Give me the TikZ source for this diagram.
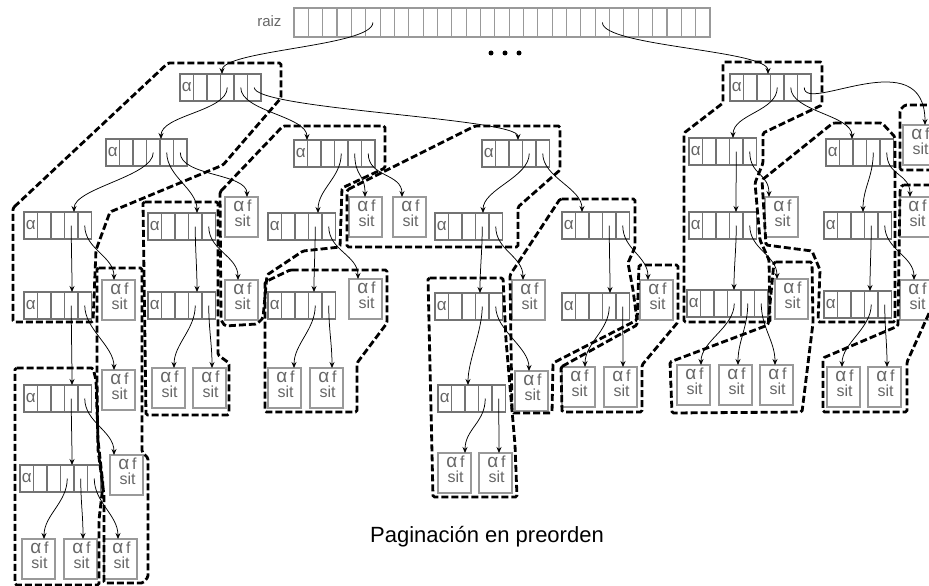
\documentclass[tikz,border=0pt]{standalone}
\usepackage{fontspec}
\setmainfont{Liberation Sans}
\usetikzlibrary{arrows.meta,calc}

\colorlet{cellgray}{black!55}
\colorlet{leafgray}{black!40}
\colorlet{txtgray}{black!60}

\tikzset{
  ptrrow/.style={draw=cellgray, line width=1.3pt, minimum height=27pt, inner sep=0pt, outer sep=0pt},
  cellsep/.style={draw=cellgray, line width=1.1pt},
  alf/.style={text=txtgray, font=\fontsize{17}{17}\selectfont, inner sep=0pt},
  leafbox/.style={draw=leafgray, line width=1.1pt, minimum width=33pt, minimum height=40pt, inner sep=0pt, outer sep=0pt, anchor=north west},
  leaftxt/.style={align=center, text=txtgray, font=\fontsize{16}{15}\selectfont, inner sep=0pt, anchor=north},
  ptr/.style={-{Stealth[length=6pt,width=5pt]}, line width=0.75pt},
  sdrop/.style={out=-90, in=90, distance=#1},
  sdrop/.default=24pt,
  pagebox/.style={line width=2.8pt, dash pattern=on 7pt off 3pt, rounded corners=1.5pt},
}

% one array of pointers: name, left x, top y, number of cells
\newcommand{\cellrow}[4]{%
  \node[ptrrow, minimum width=#4*13.5pt, anchor=north west] (#1) at (#2,-#3) {};
  \foreach \k in {1,...,#4}{\coordinate (#1-\k) at ([xshift=\k*13.5pt-6.75pt]#1.west);}
  \foreach \k in {2,...,#4}{\draw[cellsep] ([xshift=\k*13.5pt-13.5pt]#1.north west) -- ([xshift=\k*13.5pt-13.5pt]#1.south west);}
  \node[alf] (#1-a) at (#1-1) {α};
}

\begin{document}
\begin{tikzpicture}[x=1pt,y=1pt]
  \useasboundingbox (0,0) rectangle (929,-586);
  \clip (0,0) rectangle (929,-586);

  % root array
  \node[ptrrow, draw=leafgray, minimum width=416pt, minimum height=29pt, anchor=north west] (root) at (294,-8) {};
  \foreach \k in {1,...,28} \draw[cellsep, draw=leafgray] ([xshift=\k*14.345pt]root.north west) -- ([xshift=\k*14.345pt]root.south west);
  \coordinate (root-6) at ([xshift=5.5*14.345pt]root.west);
  \coordinate (root-22) at ([xshift=21.5*14.345pt]root.west);
  \node[text=txtgray, anchor=east, font=\fontsize{15}{15}\selectfont] (raiz) at (285,-21) {raiz};
  \foreach \x in {491,505,519} \fill (\x,-53) circle (2.5pt);

  % inner nodes
  \cellrow{A}{180}{74}{6}
  \cellrow{B}{106}{139}{6}
  \cellrow{C}{294}{140}{6}
  \cellrow{D}{482}{140}{5}
  \cellrow{E}{24}{212}{5}
  \cellrow{F}{148}{213}{5}
  \cellrow{G}{268}{213}{5}
  \cellrow{H}{435}{213}{5}
  \cellrow{I}{562}{212}{5}
  \cellrow{J}{24}{292}{5}
  \cellrow{N}{148}{292}{5}
  \cellrow{O}{268}{292}{5}
  \cellrow{P}{435}{293}{5}
  \cellrow{R}{562}{293}{5}
  \cellrow{K}{24}{385}{5}
  \cellrow{Q}{438}{385}{5}
  \cellrow{M}{20}{465}{6}
  \cellrow{S}{730}{74}{6}
  \cellrow{T}{689}{138}{5}
  \cellrow{U}{826}{139}{5}
  \cellrow{V}{689}{212}{5}
  \cellrow{X}{824}{212}{5}
  \cellrow{W}{687}{290}{6}
  \cellrow{Y}{824}{291}{5}

  % leaves
  \foreach \n/\x/\y in {L1/225/197, L2/349/197, L3/393/197, L4/102/280, L5/102/370, L6/110/455,
      L7/22/539, L8/64/539, L9/104/539, L10/225/280, L11/152/368, L12/193/368, L13/349/279,
      L14/268/368, L15/310/368, L16/512/280, L17/515/371, L18/438/453, L19/479/453, L20/640/280,
      L21/562/367, L22/604/367, L23/903/125, L24/765/197, L25/775/279, L26/677/365, L27/719/365,
      L28/760/365, L29/900/197, L30/900/280, L31/827/367, L32/868/367}
  {
    \node[leafbox] (\n) at (\x,-\y) {};
    \node[leaftxt] (\n-t) at ([xshift=1pt,yshift=-2.5pt]\n.north) {{\fontsize{19}{15}\selectfont α}\,f\\sit};
  }

  % pointers
  \draw[ptr] (root-6) to[sdrop] ([xshift=42pt]A.north west);
  \draw[ptr] (root-22) to[sdrop] ([xshift=38pt]S.north west);
  \draw[ptr] (A-6) to[sdrop=22pt] ([xshift=36pt]D.north west);
  \draw[ptr] (S-6) .. controls +(0,-27) and +(0,85) .. ([xshift=22pt]L23.north west);
  \foreach \src/\dst/\off in {A-4/B/55, A-5/C/13, B-4/E/50, B-5/F/49, B-6/L1/22, C-4/G/50, C-5/L2/16,
      C-6/L3/9, D-4/H/48, D-5/I/20, E-4/J/48, E-5/L4/12, F-4/N/49, F-5/L10/13, G-4/O/46, G-5/L13/9,
      H-4/P/45, H-5/L16/11, I-4/R/48, I-5/L20/8, J-4/K/48, J-5/L5/12, N-4/L11/22, N-5/L12/19,
      O-4/L14/26, O-5/L15/22, P-4/Q/30, P-5/L17/14, R-4/L21/23, R-5/L22/19, K-4/M/52, K-5/L6/4,
      M-4/L7/22, M-5/L8/19, M-6/L9/14, Q-4/L18/27, Q-5/L19/20, S-4/T/44, S-5/U/26, T-4/V/47,
      T-5/L24/4, U-4/X/39, U-5/L29/10, V-4/W/47, V-5/L25/2, X-4/Y/46, X-5/L30/14, W-4/L26/24,
      W-5/L27/19, W-6/L28/15, Y-4/L31/15, Y-5/L32/19}
    \draw[ptr] (\src) to[sdrop] ([xshift=\off pt]\dst.north west);

  % pages
  \draw[pagebox] (13,-208) -- (168,-63) -- (281,-63) -- (281,-98) -- (223,-165) -- (110,-212) -- (96,-250) -- (93,-322) -- (13,-322) -- cycle;
  \draw[pagebox] (97,-268) -- (142,-268) -- (142,-452) -- (148,-458) -- (148,-577) -- (143,-583) -- (104,-583) -- (104,-495) -- (98,-450) -- (97,-380) -- cycle;
  \draw[pagebox] (15,-368) -- (93,-368) -- (96,-380) -- (98,-440) -- (103,-485) -- (99,-520) -- (99,-585) -- (15,-585) -- cycle;
  \draw[pagebox] (143,-202) -- (218,-202) -- (218,-355) -- (229,-363) -- (229,-415) -- (146,-415) -- cycle;
  \draw[pagebox] (220,-192) -- (283,-126) -- (385,-126) -- (385,-168) -- (342,-188) -- (340,-247) -- (303,-251) -- (267,-275) -- (263,-318) -- (257,-324) -- (225,-326) -- (221,-320) -- cycle;
  \draw[pagebox] (290,-270) -- (387,-270) -- (387,-323) -- (357,-363) -- (357,-412) -- (265,-412) -- (265,-282) -- cycle;
  \draw[pagebox] (347,-190) -- (475,-126) -- (560,-126) -- (560,-170) -- (518,-207) -- (518,-247) -- (347,-247) -- cycle;
  \draw[pagebox] (560,-199) -- (635,-199) -- (635,-247) -- (628,-263) -- (633,-290) -- (637,-320) -- (553,-363) -- (552,-413) -- (512,-413) -- (510,-275) -- cycle;
  \draw[pagebox] (428,-278) -- (503,-278) -- (506,-340) -- (515,-445) -- (517,-497) -- (433,-497) -- cycle;
  \draw[pagebox] (561,-367) -- (637,-325) -- (639,-265) -- (678,-265) -- (678,-322) -- (642,-365) -- (642,-412) -- (562,-412) -- cycle;
  \draw[pagebox] (723,-62) -- (822,-62) -- (822,-105) -- (763,-133) -- (763,-163) -- (755,-183) -- (760,-240) -- (769,-260) -- (770,-322) -- (684,-322) -- (684,-133) -- (723,-103) -- cycle;
  \draw[pagebox] (833,-123) -- (882,-123) -- (895,-137) -- (895,-322) -- (818,-322) -- (820,-270) -- (812,-251) -- (766,-245) -- (762,-180) -- cycle;
  \draw[pagebox] (774,-262) -- (812,-262) -- (813,-323) -- (802,-412) -- (672,-413) -- (670,-362) -- (768,-325) -- cycle;
  \draw[pagebox] (900,-170) -- (900,-110) -- (905,-105) -- (935,-105) -- (935,-170) -- cycle;
  \draw[pagebox] (902,-185) -- (935,-185) -- (935,-300) -- (907,-362) -- (907,-412) -- (823,-412) -- (823,-358) -- (898,-326) -- (900,-190) -- cycle;

  \node[font=\fontsize{22}{22}\selectfont] (title) at (487,-537) {Paginación en preorden};
\end{tikzpicture}
\end{document}
